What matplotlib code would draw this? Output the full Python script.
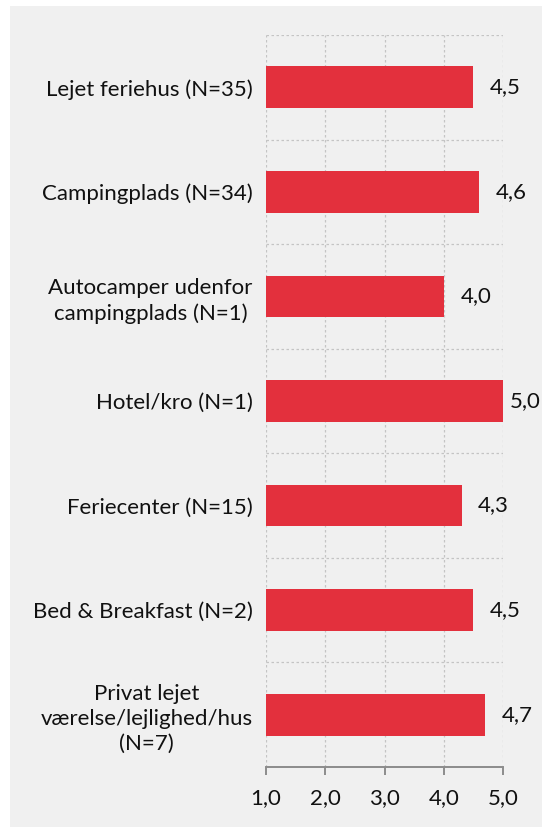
import matplotlib
matplotlib.use("Agg")
import matplotlib.pyplot as plt
from matplotlib.patches import Rectangle
from matplotlib.ticker import FixedLocator


categories = [
    "Lejet feriehus (N=35)",
    "Campingplads (N=34)",
    "Autocamper udenfor\ncampingplads (N=1)",
    "Hotel/kro (N=1)",
    "Feriecenter (N=15)",
    "Bed & Breakfast (N=2)",
    "Privat lejet\nværelse/lejlighed/hus\n(N=7)",
]
scores = [4.5, 4.6, 4.0, 5.0, 4.3, 4.5, 4.7]
x_ticks = [1.0, 2.0, 3.0, 4.0, 5.0]

BAR = "#e3303d"
BG = "#f0f0f0"
GRID = "#c4c4c4"
FS = 16


def fmt(v: float) -> str:
    return f"{v:.1f}".replace(".", ",")


def main() -> None:
    plt.rcParams["font.family"] = ["Lato", "DejaVu Sans"]
    fig = plt.figure(figsize=(5.42, 8.27), dpi=100)
    fig.patches.append(Rectangle((10 / 542, 0), 1, 1 - 6 / 827, transform=fig.transFigure,
                                 facecolor=BG, edgecolor="none", zorder=-10))
    ax = fig.add_axes([266 / 542, 1 - 767 / 827, 237 / 542, 732 / 827])
    ax.patch.set_alpha(0)

    pos = list(range(len(categories)))
    ax.barh(pos, [s - 1.0 for s in scores], left=1.0, height=0.4, color=BAR, zorder=3)
    for y, s in zip(pos, scores):
        # labels near the right edge get squeezed in, as in the original
        ax.text(min(s + 0.28, 5.12), y, fmt(s), ha="left", va="center",
                fontsize=FS, color="#111111", clip_on=False)

    ax.set_xlim(1.0, 5.0)
    ax.set_ylim(len(categories) - 0.5, -0.5)
    ax.set_xticks(x_ticks)
    ax.set_xticklabels([fmt(v) for v in x_ticks], fontsize=FS)
    ax.set_yticks(pos)
    ax.set_yticklabels(categories, fontsize=FS, multialignment="center", linespacing=1.3)
    ax.yaxis.set_minor_locator(FixedLocator([p - 0.5 for p in pos]))

    ax.grid(axis="x", which="major", color=GRID, linestyle=(0, (2, 2)), linewidth=0.9, zorder=0)
    ax.grid(axis="y", which="minor", color=GRID, linestyle=(0, (2, 2)), linewidth=0.9, zorder=0)
    ax.grid(axis="y", which="major", visible=False)

    for side in ("top", "right", "left"):
        ax.spines[side].set_visible(False)
    ax.spines["bottom"].set_color("#8c8c8c")
    ax.spines["bottom"].set_linewidth(1.4)
    ax.tick_params(axis="x", which="major", direction="out", length=6, width=1.4,
                   color="#8c8c8c", pad=9, labelcolor="#111111")
    ax.tick_params(axis="y", which="both", length=0, pad=9.5, labelcolor="#111111")

    fig.savefig("out.png", dpi=100, facecolor="white")
    plt.close(fig)


if __name__ == "__main__":
    main()
